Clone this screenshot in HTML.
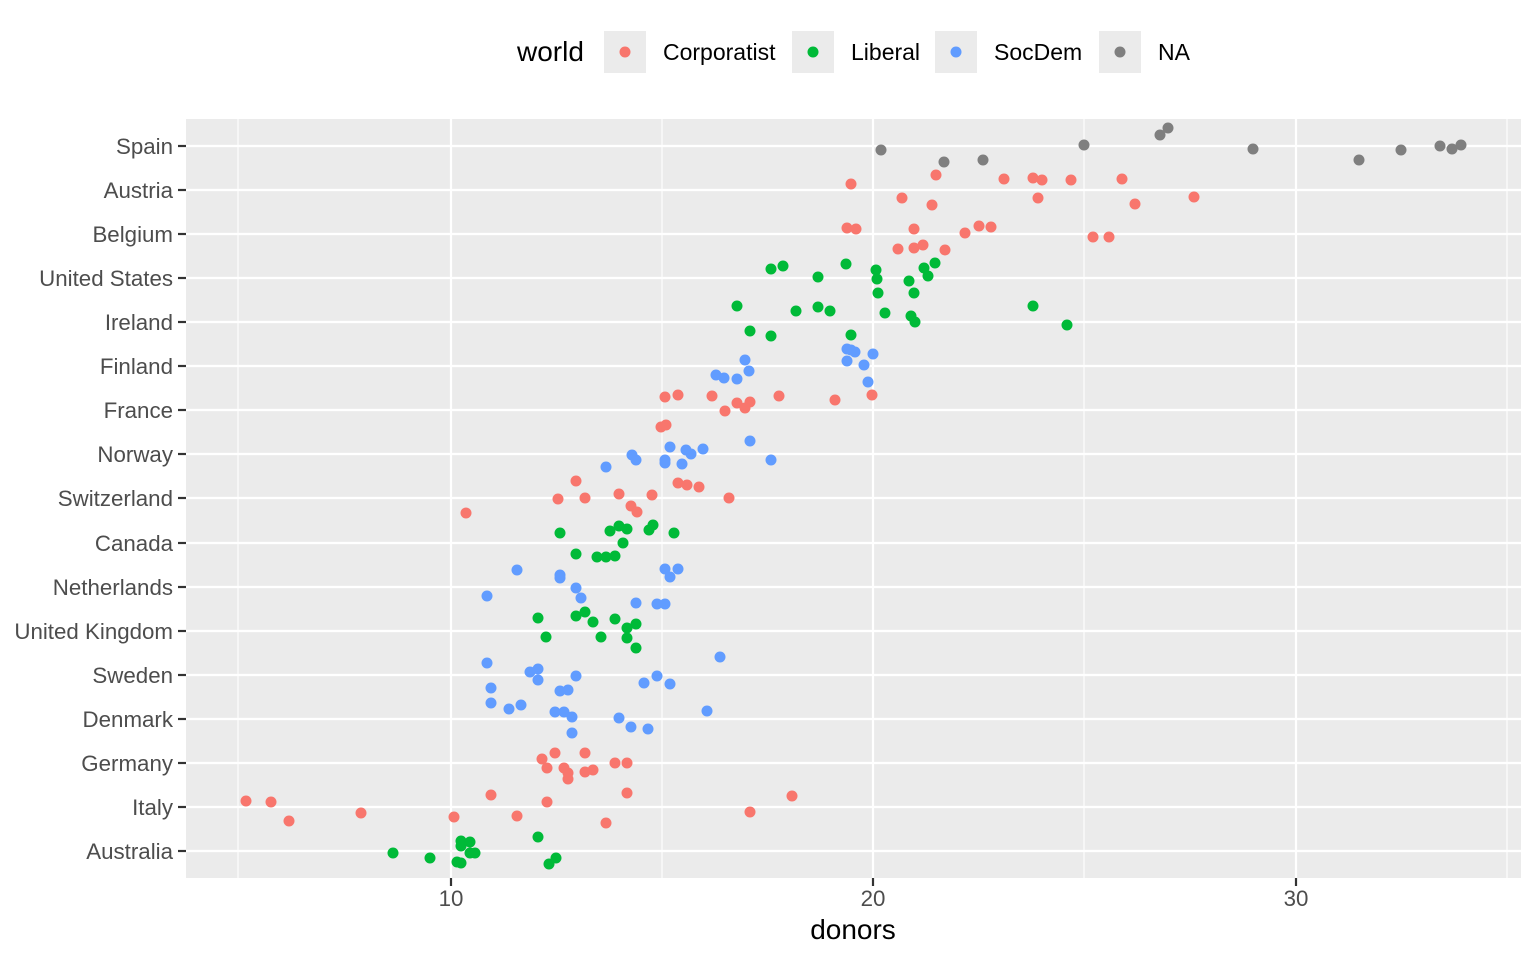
<!DOCTYPE html>
<html><head><meta charset="utf-8"><style>body{margin:0;background:#fff}svg{display:block}text{font-family:"Liberation Sans",sans-serif}</style></head><body>
<svg width="1536" height="960" xmlns="http://www.w3.org/2000/svg">
<rect x="186" y="119" width="1335" height="759" fill="#EBEBEB"/>
<g stroke="#fff" stroke-width="1.1">
<line x1="238" y1="119" x2="238" y2="878"/><line x1="662" y1="119" x2="662" y2="878"/><line x1="1084" y1="119" x2="1084" y2="878"/><line x1="1507" y1="119" x2="1507" y2="878"/>
</g>
<g stroke="#fff" stroke-width="2.2">
<line x1="451" y1="119" x2="451" y2="878"/><line x1="873" y1="119" x2="873" y2="878"/><line x1="1296" y1="119" x2="1296" y2="878"/>
<line x1="186" y1="146" x2="1521" y2="146"/><line x1="186" y1="190" x2="1521" y2="190"/><line x1="186" y1="234" x2="1521" y2="234"/><line x1="186" y1="278" x2="1521" y2="278"/><line x1="186" y1="322" x2="1521" y2="322"/><line x1="186" y1="366" x2="1521" y2="366"/><line x1="186" y1="410" x2="1521" y2="410"/><line x1="186" y1="454" x2="1521" y2="454"/><line x1="186" y1="498" x2="1521" y2="498"/><line x1="186" y1="543" x2="1521" y2="543"/><line x1="186" y1="587" x2="1521" y2="587"/><line x1="186" y1="631" x2="1521" y2="631"/><line x1="186" y1="675" x2="1521" y2="675"/><line x1="186" y1="719" x2="1521" y2="719"/><line x1="186" y1="763" x2="1521" y2="763"/><line x1="186" y1="807" x2="1521" y2="807"/><line x1="186" y1="851" x2="1521" y2="851"/>
</g>
<g stroke="#333" stroke-width="2.2">
<line x1="178" y1="146" x2="186" y2="146"/><line x1="178" y1="190" x2="186" y2="190"/><line x1="178" y1="234" x2="186" y2="234"/><line x1="178" y1="278" x2="186" y2="278"/><line x1="178" y1="322" x2="186" y2="322"/><line x1="178" y1="366" x2="186" y2="366"/><line x1="178" y1="410" x2="186" y2="410"/><line x1="178" y1="454" x2="186" y2="454"/><line x1="178" y1="498" x2="186" y2="498"/><line x1="178" y1="543" x2="186" y2="543"/><line x1="178" y1="587" x2="186" y2="587"/><line x1="178" y1="631" x2="186" y2="631"/><line x1="178" y1="675" x2="186" y2="675"/><line x1="178" y1="719" x2="186" y2="719"/><line x1="178" y1="763" x2="186" y2="763"/><line x1="178" y1="807" x2="186" y2="807"/><line x1="178" y1="851" x2="186" y2="851"/>
<line x1="451" y1="878" x2="451" y2="886"/><line x1="873" y1="878" x2="873" y2="886"/><line x1="1296" y1="878" x2="1296" y2="886"/>
</g>
<g font-size="22.3" fill="#4D4D4D" text-anchor="end">
<text x="173" y="154">Spain</text><text x="173" y="198">Austria</text><text x="173" y="242">Belgium</text><text x="173" y="286">United States</text><text x="173" y="330">Ireland</text><text x="173" y="374">Finland</text><text x="173" y="418">France</text><text x="173" y="462">Norway</text><text x="173" y="506">Switzerland</text><text x="173" y="551">Canada</text><text x="173" y="595">Netherlands</text><text x="173" y="639">United Kingdom</text><text x="173" y="683">Sweden</text><text x="173" y="727">Denmark</text><text x="173" y="771">Germany</text><text x="173" y="815">Italy</text><text x="173" y="859">Australia</text>
</g>
<g font-size="22.3" fill="#4D4D4D" text-anchor="middle">
<text x="451" y="906">10</text><text x="873" y="906">20</text><text x="1296" y="906">30</text>
</g>
<text x="853" y="939" font-size="28" text-anchor="middle" fill="#000">donors</text>
<text x="517" y="61" font-size="28" fill="#000">world</text>
<rect x="604" y="31" width="42" height="42" fill="#EBEBEB"/><circle cx="625" cy="52" r="5.5" fill="#F8766D"/><text x="663" y="60" font-size="23">Corporatist</text>
<rect x="792" y="31" width="42" height="42" fill="#EBEBEB"/><circle cx="813" cy="52" r="5.5" fill="#00BA38"/><text x="851" y="60" font-size="23">Liberal</text>
<rect x="935" y="31" width="42" height="42" fill="#EBEBEB"/><circle cx="956" cy="52" r="5.5" fill="#619CFF"/><text x="994" y="60" font-size="23">SocDem</text>
<rect x="1099" y="31" width="42" height="42" fill="#EBEBEB"/><circle cx="1120" cy="52" r="5.5" fill="#7F7F7F"/><text x="1158" y="60" font-size="23">NA</text>
<g fill="#7F7F7F">
<circle cx="881" cy="150" r="5.5"/><circle cx="944" cy="162" r="5.5"/><circle cx="983" cy="160" r="5.5"/><circle cx="1084" cy="145" r="5.5"/><circle cx="1160" cy="135" r="5.5"/><circle cx="1168" cy="128" r="5.5"/><circle cx="1253" cy="149" r="5.5"/><circle cx="1359" cy="160" r="5.5"/><circle cx="1401" cy="150" r="5.5"/><circle cx="1440" cy="146" r="5.5"/><circle cx="1452" cy="149" r="5.5"/><circle cx="1461" cy="145" r="5.5"/>
</g>
<g fill="#F8766D">
<circle cx="851" cy="184" r="5.5"/><circle cx="936" cy="175" r="5.5"/><circle cx="1004" cy="179" r="5.5"/><circle cx="1033" cy="178" r="5.5"/><circle cx="1042" cy="180" r="5.5"/><circle cx="1071" cy="180" r="5.5"/><circle cx="1122" cy="179" r="5.5"/><circle cx="902" cy="198" r="5.5"/><circle cx="932" cy="205" r="5.5"/><circle cx="1038" cy="198" r="5.5"/><circle cx="1135" cy="204" r="5.5"/><circle cx="1194" cy="197" r="5.5"/>
<circle cx="847" cy="228" r="5.5"/><circle cx="856" cy="229" r="5.5"/><circle cx="914" cy="229" r="5.5"/><circle cx="965" cy="233" r="5.5"/><circle cx="979" cy="226" r="5.5"/><circle cx="991" cy="227" r="5.5"/><circle cx="898" cy="249" r="5.5"/><circle cx="914" cy="248" r="5.5"/><circle cx="923" cy="245" r="5.5"/><circle cx="945" cy="250" r="5.5"/><circle cx="1093" cy="237" r="5.5"/><circle cx="1109" cy="237" r="5.5"/>
<circle cx="665" cy="397" r="5.5"/><circle cx="678" cy="395" r="5.5"/><circle cx="712" cy="396" r="5.5"/><circle cx="737" cy="403" r="5.5"/><circle cx="750" cy="402" r="5.5"/><circle cx="745" cy="408" r="5.5"/><circle cx="725" cy="411" r="5.5"/><circle cx="779" cy="396" r="5.5"/><circle cx="835" cy="400" r="5.5"/><circle cx="872" cy="395" r="5.5"/><circle cx="661" cy="427" r="5.5"/><circle cx="666" cy="425" r="5.5"/>
<circle cx="576" cy="481" r="5.5"/><circle cx="678" cy="483" r="5.5"/><circle cx="687" cy="485" r="5.5"/><circle cx="699" cy="487" r="5.5"/><circle cx="558" cy="499" r="5.5"/><circle cx="585" cy="498" r="5.5"/><circle cx="619" cy="494" r="5.5"/><circle cx="652" cy="495" r="5.5"/><circle cx="729" cy="498" r="5.5"/><circle cx="631" cy="506" r="5.5"/><circle cx="637" cy="512" r="5.5"/><circle cx="466" cy="513" r="5.5"/>
<circle cx="555" cy="753" r="5.5"/><circle cx="585" cy="753" r="5.5"/><circle cx="542" cy="759" r="5.5"/><circle cx="547" cy="768" r="5.5"/><circle cx="564" cy="768" r="5.5"/><circle cx="568" cy="773" r="5.5"/><circle cx="568" cy="779" r="5.5"/><circle cx="585" cy="772" r="5.5"/><circle cx="593" cy="770" r="5.5"/><circle cx="615" cy="763" r="5.5"/><circle cx="627" cy="763" r="5.5"/>
<circle cx="246" cy="801" r="5.5"/><circle cx="271" cy="802" r="5.5"/><circle cx="491" cy="795" r="5.5"/><circle cx="547" cy="802" r="5.5"/><circle cx="627" cy="793" r="5.5"/><circle cx="792" cy="796" r="5.5"/><circle cx="361" cy="813" r="5.5"/><circle cx="289" cy="821" r="5.5"/><circle cx="454" cy="817" r="5.5"/><circle cx="517" cy="816" r="5.5"/><circle cx="606" cy="823" r="5.5"/><circle cx="750" cy="812" r="5.5"/>
</g>
<g fill="#00BA38">
<circle cx="771" cy="269" r="5.5"/><circle cx="783" cy="266" r="5.5"/><circle cx="818" cy="277" r="5.5"/><circle cx="846" cy="264" r="5.5"/><circle cx="876" cy="270" r="5.5"/><circle cx="877" cy="279" r="5.5"/><circle cx="878" cy="293" r="5.5"/><circle cx="909" cy="281" r="5.5"/><circle cx="914" cy="293" r="5.5"/><circle cx="924" cy="268" r="5.5"/><circle cx="928" cy="276" r="5.5"/><circle cx="935" cy="263" r="5.5"/>
<circle cx="737" cy="306" r="5.5"/><circle cx="796" cy="311" r="5.5"/><circle cx="818" cy="307" r="5.5"/><circle cx="830" cy="311" r="5.5"/><circle cx="885" cy="313" r="5.5"/><circle cx="911" cy="316" r="5.5"/><circle cx="915" cy="322" r="5.5"/><circle cx="1033" cy="306" r="5.5"/><circle cx="1067" cy="325" r="5.5"/><circle cx="750" cy="331" r="5.5"/><circle cx="771" cy="336" r="5.5"/><circle cx="851" cy="335" r="5.5"/>
<circle cx="560" cy="533" r="5.5"/><circle cx="610" cy="531" r="5.5"/><circle cx="619" cy="526" r="5.5"/><circle cx="627" cy="529" r="5.5"/><circle cx="649" cy="530" r="5.5"/><circle cx="653" cy="525" r="5.5"/><circle cx="674" cy="533" r="5.5"/><circle cx="623" cy="543" r="5.5"/><circle cx="576" cy="554" r="5.5"/><circle cx="597" cy="557" r="5.5"/><circle cx="606" cy="557" r="5.5"/><circle cx="615" cy="556" r="5.5"/>
<circle cx="538" cy="618" r="5.5"/><circle cx="576" cy="616" r="5.5"/><circle cx="585" cy="612" r="5.5"/><circle cx="593" cy="622" r="5.5"/><circle cx="615" cy="619" r="5.5"/><circle cx="627" cy="628" r="5.5"/><circle cx="636" cy="624" r="5.5"/><circle cx="627" cy="638" r="5.5"/><circle cx="601" cy="637" r="5.5"/><circle cx="546" cy="637" r="5.5"/><circle cx="636" cy="648" r="5.5"/>
<circle cx="461" cy="841" r="5.5"/><circle cx="470" cy="842" r="5.5"/><circle cx="538" cy="837" r="5.5"/><circle cx="461" cy="846" r="5.5"/><circle cx="393" cy="853" r="5.5"/><circle cx="470" cy="853" r="5.5"/><circle cx="475" cy="853" r="5.5"/><circle cx="430" cy="858" r="5.5"/><circle cx="457" cy="862" r="5.5"/><circle cx="461" cy="863" r="5.5"/><circle cx="556" cy="858" r="5.5"/><circle cx="549" cy="864" r="5.5"/>
</g>
<g fill="#619CFF">
<circle cx="745" cy="360" r="5.5"/><circle cx="749" cy="371" r="5.5"/><circle cx="716" cy="375" r="5.5"/><circle cx="724" cy="378" r="5.5"/><circle cx="737" cy="379" r="5.5"/><circle cx="847" cy="349" r="5.5"/><circle cx="855" cy="352" r="5.5"/><circle cx="873" cy="354" r="5.5"/><circle cx="847" cy="361" r="5.5"/><circle cx="864" cy="365" r="5.5"/><circle cx="868" cy="382" r="5.5"/><circle cx="851" cy="350" r="5.5"/>
<circle cx="670" cy="447" r="5.5"/><circle cx="686" cy="450" r="5.5"/><circle cx="691" cy="454" r="5.5"/><circle cx="703" cy="449" r="5.5"/><circle cx="750" cy="441" r="5.5"/><circle cx="632" cy="455" r="5.5"/><circle cx="636" cy="460" r="5.5"/><circle cx="665" cy="460" r="5.5"/><circle cx="665" cy="463" r="5.5"/><circle cx="682" cy="464" r="5.5"/><circle cx="771" cy="460" r="5.5"/><circle cx="606" cy="467" r="5.5"/>
<circle cx="517" cy="570" r="5.5"/><circle cx="560" cy="575" r="5.5"/><circle cx="560" cy="578" r="5.5"/><circle cx="665" cy="569" r="5.5"/><circle cx="678" cy="569" r="5.5"/><circle cx="670" cy="577" r="5.5"/><circle cx="576" cy="588" r="5.5"/><circle cx="581" cy="598" r="5.5"/><circle cx="487" cy="596" r="5.5"/><circle cx="636" cy="603" r="5.5"/><circle cx="657" cy="604" r="5.5"/><circle cx="665" cy="604" r="5.5"/>
<circle cx="487" cy="663" r="5.5"/><circle cx="530" cy="672" r="5.5"/><circle cx="538" cy="669" r="5.5"/><circle cx="538" cy="680" r="5.5"/><circle cx="576" cy="676" r="5.5"/><circle cx="657" cy="676" r="5.5"/><circle cx="644" cy="683" r="5.5"/><circle cx="670" cy="684" r="5.5"/><circle cx="720" cy="657" r="5.5"/><circle cx="491" cy="688" r="5.5"/><circle cx="560" cy="691" r="5.5"/><circle cx="568" cy="690" r="5.5"/><circle cx="491" cy="703" r="5.5"/><circle cx="509" cy="709" r="5.5"/><circle cx="521" cy="705" r="5.5"/>
<circle cx="555" cy="712" r="5.5"/><circle cx="564" cy="712" r="5.5"/><circle cx="572" cy="717" r="5.5"/><circle cx="619" cy="718" r="5.5"/><circle cx="707" cy="711" r="5.5"/><circle cx="631" cy="727" r="5.5"/><circle cx="648" cy="729" r="5.5"/><circle cx="572" cy="733" r="5.5"/>
</g>
</svg>
</body></html>
